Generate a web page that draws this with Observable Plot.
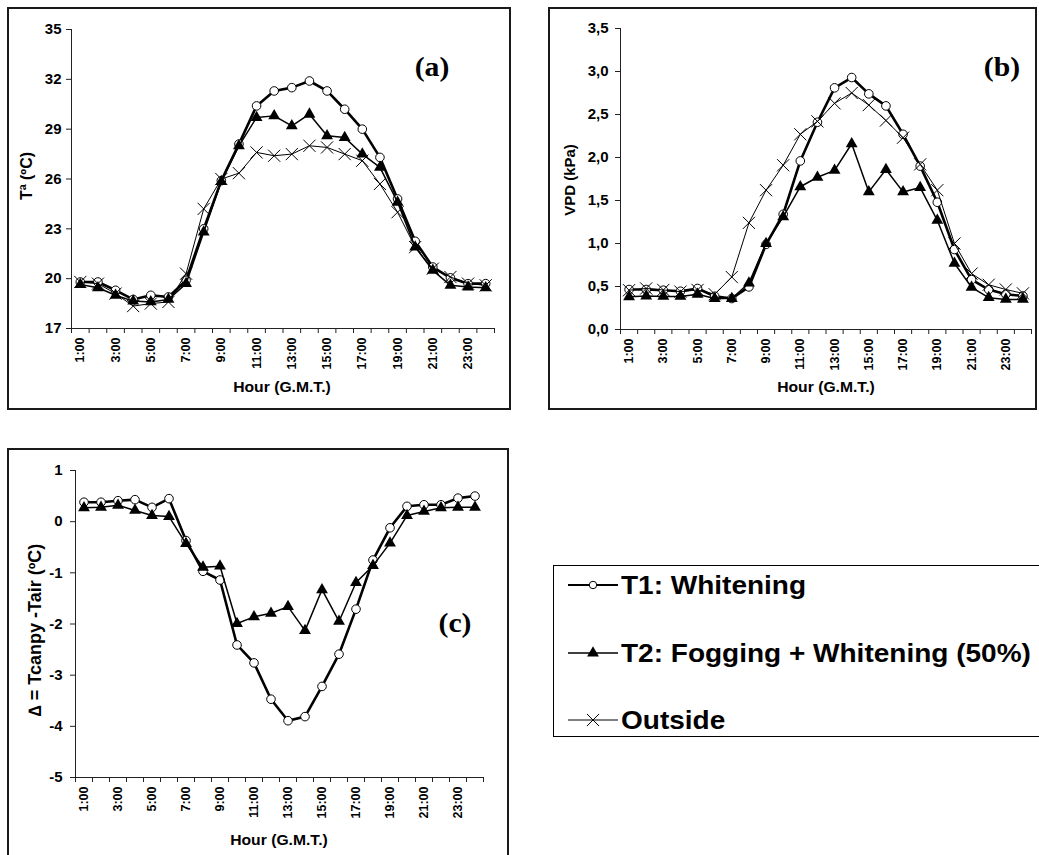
<!DOCTYPE html>
<html><head><meta charset="utf-8">
<script src="https://cdn.jsdelivr.net/npm/d3@7"></script>
<script src="https://cdn.jsdelivr.net/npm/@observablehq/plot@0.6"></script>
<style>
html,body{margin:0;padding:0;background:#fff;}
body{width:1039px;height:855px;overflow:hidden;position:relative;font-family:"Liberation Sans",Arial,sans-serif;color:#000;}
.box{position:absolute;border:2px solid #1a1a1a;box-sizing:border-box;pointer-events:none}
.pl{position:absolute}
.title{position:absolute;font-weight:bold;font-size:14px;white-space:nowrap;transform:translate(-50%,-50%) scaleX(1.12)}
.ytitle{position:absolute;font-weight:bold;white-space:nowrap;transform:translate(-50%,-50%) rotate(-90deg)}
.plabel{position:absolute;font-family:"Liberation Serif","Times New Roman",serif;font-weight:bold;font-size:27px;transform:translate(-50%,-50%) scaleX(1.1)}
.legend{position:absolute;left:553px;top:565px;width:520px;height:172px;border:1.5px solid #000;box-sizing:border-box}
.lrow{position:absolute;left:14px;height:30px;display:flex;align-items:center}
.ltext{font-weight:bold;font-size:25px;white-space:nowrap;transform:scaleX(1.12);transform-origin:left center;margin-left:3px}
</style></head><body>
<script>
// ---- data ----
const hours = ["1:00","2:00","3:00","4:00","5:00","6:00","7:00","8:00","9:00","10:00","11:00","12:00",
               "13:00","14:00","15:00","16:00","17:00","18:00","19:00","20:00","21:00","22:00","23:00","24:00"];
const seriesNames = ["T1: Whitening", "T2: Fogging + Whitening (50%)", "Outside"];

// (a) air temperature (ºC)
const taT1  = [19.8,19.8,19.3,18.75,19.0,18.9,19.9,23.0,25.9,28.1,30.4,31.3,31.5,31.9,31.3,30.2,29.0,27.3,24.8,22.25,20.7,20.05,19.7,19.7];
const taT2  = [19.65,19.45,19.0,18.65,18.6,18.75,19.7,22.8,25.85,28.0,29.7,29.8,29.2,29.9,28.6,28.5,27.5,26.7,24.6,21.9,20.5,19.6,19.5,19.45];
const taOut = [19.8,19.7,19.1,18.35,18.5,18.6,20.3,24.2,26.0,26.35,27.6,27.4,27.5,28.0,27.9,27.5,27.1,25.7,24.0,21.9,20.6,20.1,19.7,19.6];

// (b) VPD (kPa)
const vpdT1  = [0.465,0.465,0.457,0.445,0.477,0.387,0.36,0.495,0.99,1.34,1.96,2.41,2.81,2.93,2.74,2.60,2.27,1.90,1.48,0.93,0.58,0.465,0.41,0.39];
const vpdT2  = [0.38,0.39,0.385,0.385,0.41,0.36,0.36,0.54,1.0,1.31,1.66,1.77,1.85,2.16,1.60,1.86,1.60,1.65,1.27,0.77,0.49,0.37,0.35,0.35];
const vpdOut = [0.457,0.477,0.46,0.44,0.46,0.41,0.61,1.24,1.62,1.91,2.27,2.42,2.63,2.75,2.61,2.43,2.23,1.92,1.62,1.0,0.65,0.52,0.465,0.42];

// (c) Tcanopy - Tair (ºC)
const dT1 = [0.38,0.38,0.41,0.43,0.28,0.45,-0.37,-0.97,-1.14,-2.41,-2.76,-3.47,-3.89,-3.81,-3.22,-2.59,-1.71,-0.75,-0.12,0.30,0.33,0.33,0.46,0.50];
const dT2 = [0.27,0.28,0.32,0.22,0.12,0.10,-0.43,-0.89,-0.87,-1.99,-1.86,-1.79,-1.66,-2.13,-1.33,-1.95,-1.19,-0.86,-0.42,0.12,0.20,0.27,0.28,0.28];

// tick values
const yTicksA = [17,20,23,26,29,32,35];
const yTicksB = [0,0.5,1,1.5,2,2.5,3,3.5];
const yTicksC = [1,0,-1,-2,-3,-4,-5];
const xTickLabels = hours.filter((h, i) => i % 2 === 0);

// ---- styles per series ----
const seriesStyle = [
  {lineWidth: 2.6, symbol: "circle",   r: 4.3, fill: "white", stroke: "black", sw: 1},
  {lineWidth: 1.5, symbol: "triangle", r: 4.4, fill: "black", stroke: "none",  sw: 0},
  {lineWidth: 1.0, symbol: "times",    r: 5.6, fill: "none",  stroke: "black", sw: 1}
];

const xDomain = [0.5, hours.length + 0.5];
const xBounds = d3.range(0, hours.length + 1).map(i => i + 0.5);
const xLabelPos = hours.map((h, i) => i + 1).filter(i => xTickLabels.includes(hours[i - 1]));

function rows(vals) { return vals.map((v, i) => ({x: i + 1, v})); }

function panel(cfg) {
  const marks = [
    Plot.ruleX([xDomain[0]], {stroke: "#222", strokeWidth: 1}),
    Plot.ruleY([cfg.yDomain[0]], {stroke: "#222", strokeWidth: 1}),
    Plot.axisY({ticks: cfg.yTicks, tickSize: 5, tickPadding: cfg.tickPad, tickFormat: cfg.yFormat,
                fontWeight: "bold", stroke: "#222"}),
    Plot.axisX({ticks: xBounds, tickSize: 5, tickFormat: () => "", stroke: "#222"}),
    Plot.axisX({ticks: xLabelPos, tickSize: 0, tickPadding: 9, tickRotate: -90,
                tickFormat: d => hours[d - 1], fontWeight: "bold"})
  ];
  cfg.series.forEach((vals, k) => {
    const st = seriesStyle[k];
    const data = rows(vals);
    marks.push(Plot.line(data, {x: "x", y: "v", stroke: "black", strokeWidth: st.lineWidth}));
    marks.push(Plot.dot(data, {x: "x", y: "v", symbol: st.symbol, r: st.r, fill: st.fill,
                               stroke: st.stroke, strokeWidth: st.sw}));
  });
  const svg = Plot.plot({
    width: cfg.width, height: cfg.height,
    marginLeft: cfg.ml, marginRight: cfg.mr, marginTop: cfg.mt, marginBottom: cfg.mb,
    x: {type: "linear", domain: xDomain, label: null},
    y: {type: "linear", domain: cfg.yDomain, label: null},
    style: {fontFamily: "Liberation Sans, Arial, sans-serif", fontWeight: "bold", fontSize: "13px", color: "#000",
            background: "transparent", overflow: "visible"},
    marks
  });
  const yLabels = cfg.yTicks.map(cfg.yFormat);
  svg.querySelectorAll("text").forEach(t => {
    const s = t.textContent;
    if (xTickLabels.includes(s)) {
      t.style.fontSize = "12.5px"; t.style.fontWeight = "bold";
    } else if (yLabels.includes(s)) {
      t.style.fontSize = "15px"; t.style.fontWeight = "bold";
    }
  });
  const wrap = document.createElement("div");
  wrap.className = "pl";
  wrap.style.left = cfg.left + "px";
  wrap.style.top = cfg.top + "px";
  wrap.appendChild(svg);
  document.body.appendChild(wrap);
}

function addDiv(cls, text, styles) {
  const d = document.createElement("div");
  d.className = cls;
  d.textContent = text;
  Object.assign(d.style, styles);
  document.body.appendChild(d);
  return d;
}

// frames
addDiv("box", "", {left: "7px", top: "7px", width: "504px", height: "403px"});
addDiv("box", "", {left: "548px", top: "7px", width: "489px", height: "403px"});
addDiv("box", "", {left: "7px", top: "448px", width: "502px", height: "420px"});

panel({left: 8, top: 8, width: 502, height: 401, ml: 63, mr: 16, mt: 21, mb: 81,
       yDomain: [17, 35], yTicks: yTicksA, yFormat: d => String(d), tickPad: 5,
       series: [taT1, taT2, taOut]});
panel({left: 549, top: 8, width: 486, height: 401, ml: 71, mr: 4, mt: 20, mb: 80,
       yDomain: [0, 3.5], yTicks: yTicksB, yFormat: d => d.toFixed(1).replace(".", ","), tickPad: 7,
       series: [vpdT1, vpdT2, vpdOut]});
panel({left: 8, top: 449, width: 499, height: 406, ml: 67, mr: 24, mt: 21, mb: 78,
       yDomain: [-5, 1], yTicks: yTicksC, yFormat: d => String(d), tickPad: 8,
       series: [dT1, dT2]});

// axis titles
addDiv("title", "Hour (G.M.T.)", {left: "282px", top: "387px"});
addDiv("title", "Hour (G.M.T.)", {left: "826px", top: "387px"});
addDiv("title", "Hour (G.M.T.)", {left: "279px", top: "840px"});
addDiv("ytitle", "Tª (ºC)", {left: "27px", top: "176px", fontSize: "16px"});
addDiv("ytitle", "VPD (kPa)", {left: "569px", top: "180px", fontSize: "15px"});
addDiv("ytitle", "\u2206 = Tcanpy -Tair (ºC)", {left: "35px", top: "630px", fontSize: "18px"});

// panel labels
addDiv("plabel", "(a)", {left: "432px", top: "67px"});
addDiv("plabel", "(b)", {left: "1002px", top: "67px"});
addDiv("plabel", "(c)", {left: "455px", top: "623px"});

// legend
const legend = document.createElement("div");
legend.className = "legend";
document.body.appendChild(legend);
const rowTops = [4, 72, 139];
seriesNames.forEach((name, k) => {
  const st = seriesStyle[k];
  const row = document.createElement("div");
  row.className = "lrow";
  row.style.top = rowTops[k] + "px";
  const ns = "http://www.w3.org/2000/svg";
  const s = document.createElementNS(ns, "svg");
  s.setAttribute("width", 50); s.setAttribute("height", 30);
  const ln = document.createElementNS(ns, "line");
  ln.setAttribute("x1", 0); ln.setAttribute("x2", 50); ln.setAttribute("y1", 15); ln.setAttribute("y2", 15);
  ln.setAttribute("stroke", "black"); ln.setAttribute("stroke-width", Math.min(st.lineWidth, 2));
  s.appendChild(ln);
  const p = document.createElementNS(ns, "path");
  const symMap = {circle: d3.symbolCircle, triangle: d3.symbolTriangle, times: d3.symbolTimes};
  p.setAttribute("d", d3.symbol(symMap[st.symbol], Math.PI * st.r * st.r * (k === 0 ? 0.75 : 1))());
  p.setAttribute("transform", "translate(25,15)");
  p.setAttribute("fill", st.fill); p.setAttribute("stroke", st.stroke); p.setAttribute("stroke-width", st.sw || 0);
  s.appendChild(p);
  row.appendChild(s);
  const t = document.createElement("span");
  t.className = "ltext";
  t.textContent = name;
  row.appendChild(t);
  legend.appendChild(row);
});
</script>
</body></html>
